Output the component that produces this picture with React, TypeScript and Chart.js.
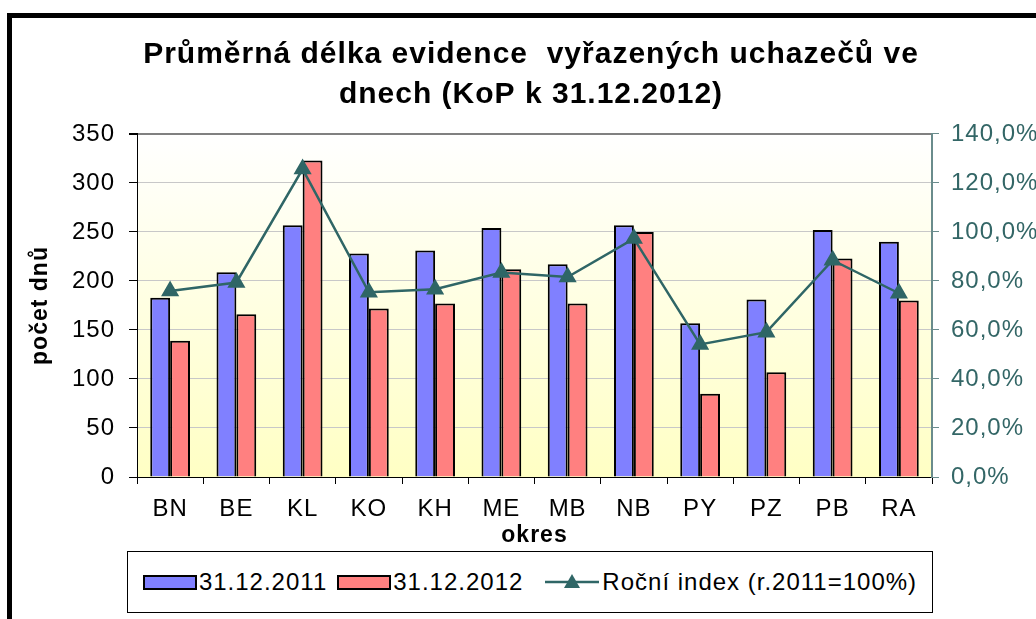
import React, { useEffect, useRef } from "react";
import { Chart, registerables } from "chart.js";

Chart.register(...registerables);

const categories = ["BN", "BE", "KL", "KO", "KH", "ME", "MB", "NB", "PY", "PZ", "PB", "RA"];
const values2011 = [183, 209, 257, 228, 231, 254, 217, 257, 157, 181, 252, 240];
const values2012 = [139, 166, 323, 172, 177, 212, 177, 250, 85, 107, 223, 180];
const indexValues = [75.9, 79.4, 125.7, 75.4, 76.6, 83.5, 81.6, 97.3, 54.1, 59.1, 88.5, 75.0];

const leftTicksMax = 350;
const leftTicksStep = 50;
const rightTicksMax = 140;
const rightTicksStep = 20;

const seriesLabels = ["31.12.2011", "31.12.2012", "Roční index (r.2011=100%)"];
const titleLines = ["Průměrná délka evidence  vyřazených uchazečů ve", "dnech (KoP k 31.12.2012)"];

const FONT = "'Liberation Sans', Arial, Helvetica, sans-serif";
const BLUE = "#8080FF";
const RED = "#FF8080";
const TEAL = "#2F6666";
const TEAL_TEXT = "#336666";

const bgPlugin = {
  id: "plotBg",
  beforeDraw(chart: any) {
    const { ctx, chartArea } = chart;
    if (!chartArea) return;
    const g = ctx.createLinearGradient(0, chartArea.top, 0, chartArea.bottom);
    g.addColorStop(0, "#FFFFFF");
    g.addColorStop(1, "#FFFFC4");
    ctx.save();
    ctx.fillStyle = g;
    ctx.fillRect(chartArea.left, chartArea.top, chartArea.right - chartArea.left, chartArea.bottom - chartArea.top);
    ctx.restore();
    // the reference text is slightly stretched horizontally
    (ctx as any).letterSpacing = "1px";
  },
};

function App() {
  const canvasRef = useRef<HTMLCanvasElement | null>(null);

  useEffect(() => {
    if (!canvasRef.current) return;
    const chart = new Chart(canvasRef.current, {
      type: "bar",
      data: {
        labels: categories,
        datasets: [
          {
            type: "line",
            label: seriesLabels[2],
            data: indexValues,
            yAxisID: "y1",
            borderColor: TEAL,
            backgroundColor: TEAL,
            borderWidth: 2.5,
            pointStyle: "triangle",
            pointRadius: 8,
            pointBackgroundColor: TEAL,
            pointBorderColor: TEAL,
            tension: 0,
            order: 0,
          } as any,
          {
            type: "bar",
            label: seriesLabels[0],
            data: values2011,
            yAxisID: "y",
            backgroundColor: BLUE,
            borderColor: "#000000",
            borderWidth: 2,
            categoryPercentage: 0.6,
            barPercentage: 1.0,
            order: 1,
          },
          {
            type: "bar",
            label: seriesLabels[1],
            data: values2012,
            yAxisID: "y",
            backgroundColor: RED,
            borderColor: "#000000",
            borderWidth: 2,
            categoryPercentage: 0.6,
            barPercentage: 1.0,
            order: 1,
          },
        ],
      },
      options: {
        animation: false,
        responsive: false,
        maintainAspectRatio: false,
        layout: { padding: { left: 26, right: 0, top: 0, bottom: 70 } },
        plugins: {
          legend: { display: false },
          tooltip: { enabled: false },
          title: {
            display: true,
            text: titleLines,
            color: "#000000",
            font: { family: FONT, size: 30, weight: "bold", lineHeight: 1.3333 },
            padding: { top: 35, bottom: 19 },
          },
        },
        scales: {
          x: {
            offset: true,
            grid: {
              display: true,
              drawOnChartArea: false,
              offset: true,
              tickLength: 7,
              color: "#000000",
            },
            border: { color: "#000000", width: 1 },
            ticks: { color: "#000000", font: { family: FONT, size: 24 }, padding: 11 },
            title: {
              display: true,
              text: "okres",
              color: "#000000",
              font: { family: FONT, size: 23, weight: "bold" },
              padding: { top: 0, bottom: 0 },
            },
            afterFit(scale: any) {
              scale.height = 72;
            },
          },
          y: {
            position: "left",
            min: 0,
            max: leftTicksMax,
            ticks: {
              stepSize: leftTicksStep,
              color: "#000000",
              font: { family: FONT, size: 24 },
              padding: 14,
            },
            grid: {
              color: (c: any) => (c.tick && c.tick.value === leftTicksMax ? "#808080" : "#C8C8C8"),
              tickColor: "#000000",
              tickLength: 8,
              lineWidth: (c: any) => (c.tick && c.tick.value === leftTicksMax ? 2 : 1),
            },
            border: { color: "#000000", width: 1 },
            title: {
              display: true,
              text: "počet dnů",
              color: "#000000",
              font: { family: FONT, size: 23, weight: "bold" },
              padding: { top: 1, bottom: 0 },
            },
            afterFit(scale: any) {
              scale.width = 111;
            },
          },
          y1: {
            position: "right",
            min: 0,
            max: rightTicksMax,
            ticks: {
              stepSize: rightTicksStep,
              color: TEAL_TEXT,
              font: { family: FONT, size: 24 },
              padding: 12,
              callback: (v: any) => Number(v).toFixed(1).replace(".", ",") + "%",
            },
            grid: {
              drawOnChartArea: false,
              color: "#6A8C8C",
              tickLength: 7,
            },
            border: { color: "#6A8C8C", width: 2 },
            afterFit(scale: any) {
              scale.width = 104;
            },
          },
        },
      },
      plugins: [bgPlugin],
    });
    return () => chart.destroy();
  }, []);

  const legendText: React.CSSProperties = {
    fontFamily: FONT,
    fontSize: 24,
    letterSpacing: "1px",
    color: "#000",
    whiteSpace: "nowrap",
  };
  const swatch = (color: string): React.CSSProperties => ({
    display: "inline-block",
    width: 50,
    height: 11,
    background: color,
    border: "2px solid #000",
    marginRight: 2,
  });

  return (
    <div
      style={{
        position: "fixed",
        left: 0,
        top: 0,
        width: 1036,
        height: 619,
        overflow: "hidden",
        background: "#FFFFFF",
      }}
    >
      <div
        style={{
          position: "absolute",
          left: 7,
          top: 13,
          width: 1100,
          height: 700,
          border: "5px solid #000",
          boxSizing: "border-box",
        }}
      />
      <canvas
        ref={canvasRef}
        width={1036}
        height={619}
        style={{ position: "absolute", left: 0, top: 0, width: 1036, height: 619 }}
      />
      <div
        style={{
          position: "absolute",
          left: 127,
          top: 551,
          width: 806,
          height: 62,
          border: "1px solid #000",
          boxSizing: "border-box",
          background: "#FFFFFF",
          display: "flex",
          alignItems: "center",
          justifyContent: "center",
        }}
      >
        <span style={{ display: "flex", alignItems: "center", marginRight: 10 }}>
          <span style={swatch(BLUE)} />
          <span style={legendText}>{seriesLabels[0]}</span>
        </span>
        <span style={{ display: "flex", alignItems: "center", marginRight: 22 }}>
          <span style={swatch(RED)} />
          <span style={legendText}>{seriesLabels[1]}</span>
        </span>
        <span style={{ display: "flex", alignItems: "center" }}>
          <svg width={54} height={20} style={{ marginRight: 3 }}>
            <line x1={0} y1={10} x2={54} y2={10} stroke={TEAL} strokeWidth={2.5} />
            <polygon points="27,2 35,16 19,16" fill={TEAL} />
          </svg>
          <span style={legendText}>{seriesLabels[2]}</span>
        </span>
      </div>
    </div>
  );
}

export default App;
